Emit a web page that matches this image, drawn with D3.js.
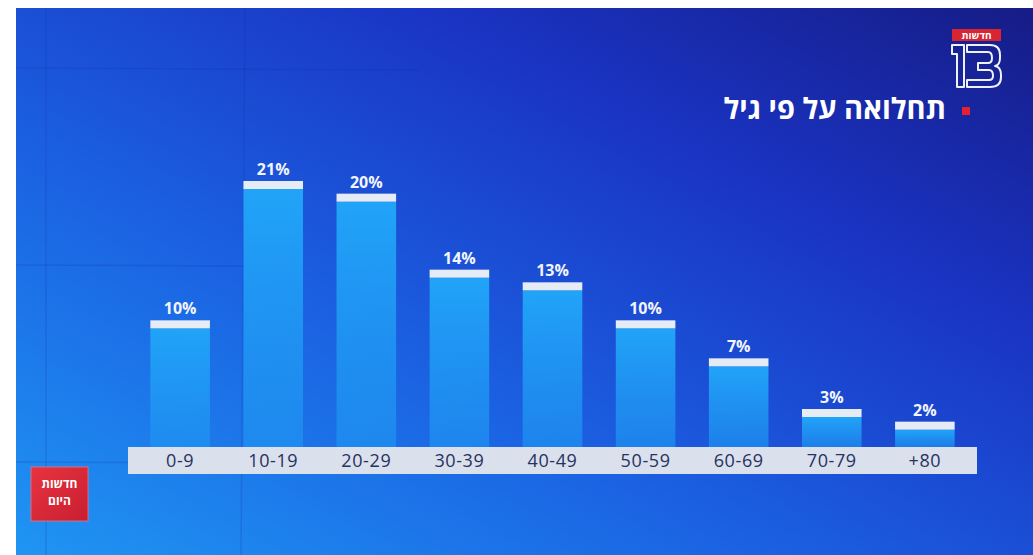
<!DOCTYPE html>
<html lang="he">
<head>
<meta charset="utf-8">
<script src="https://cdn.jsdelivr.net/npm/d3@7/dist/d3.min.js"></script>
<style>
  html, body { margin: 0; padding: 0; background: #ffffff; overflow: hidden; }
  svg { display: block; }
</style>
</head>
<body>
<svg id="chart" width="1033" height="555"></svg>
<script>
// ---- data ----
const categories = ["0-9", "10-19", "20-29", "30-39", "40-49", "50-59", "60-69", "70-79", "+80"];
const values = [10, 21, 20, 14, 13, 10, 7, 3, 2];
const title = "תחלואה על פי גיל";
const logoLabel = "חדשות";
const badgeLines = ["חדשות", "היום"];

// ---- setup ----
const W = 1033, H = 555;
const svg = d3.select("#chart");
const defs = svg.append("defs");

const bg = defs.append("linearGradient").attr("id", "bg")
  .attr("x1", "0%").attr("y1", "100%").attr("x2", "100%").attr("y2", "0%");
bg.append("stop").attr("offset", "0%").attr("stop-color", "#1f95f3");
bg.append("stop").attr("offset", "35%").attr("stop-color", "#1b64e3");
bg.append("stop").attr("offset", "70%").attr("stop-color", "#1a34c4");
bg.append("stop").attr("offset", "100%").attr("stop-color", "#161c86");

const barGrad = defs.append("linearGradient").attr("id", "barGrad")
  .attr("x1", "0").attr("y1", "0").attr("x2", "0").attr("y2", "1");
barGrad.append("stop").attr("offset", "0%").attr("stop-color", "#21a4f8").attr("stop-opacity", 1);
barGrad.append("stop").attr("offset", "100%").attr("stop-color", "#1f92f2").attr("stop-opacity", 0.7);

const badgeGrad = defs.append("linearGradient").attr("id", "badgeGrad")
  .attr("x1", "0").attr("y1", "0").attr("x2", "1").attr("y2", "1");
badgeGrad.append("stop").attr("offset", "0%").attr("stop-color", "#e8333f");
badgeGrad.append("stop").attr("offset", "100%").attr("stop-color", "#c81f32");

// background (photo border white on top/left)
svg.append("rect").attr("x", 16).attr("y", 8).attr("width", W - 16).attr("height", H - 8)
  .attr("fill", "url(#bg)");

// video wall seams
const seams = svg.append("g").attr("stroke", "#0f2a9a").attr("stroke-opacity", 0.18).attr("stroke-width", 1.5);
seams.append("line").attr("x1", 46).attr("x2", 46).attr("y1", 8).attr("y2", H);
seams.append("line").attr("x1", 245).attr("x2", 241).attr("y1", 8).attr("y2", H);
seams.append("line").attr("x1", 16).attr("x2", 420).attr("y1", 68).attr("y2", 70);
seams.append("line").attr("x1", 16).attr("x2", 245).attr("y1", 265).attr("y2", 266);
seams.append("line").attr("x1", 16).attr("x2", 245).attr("y1", 462).attr("y2", 463);

// ---- scales ----
const x = d3.scaleBand().domain(categories).range([128, 977]).paddingInner(0.36).paddingOuter(0.24);
const y = d3.scaleLinear().domain([0, 21]).range([447, 181]);
const capH = 8;

const data = categories.map((c, i) => ({ c, v: values[i] }));

// bars
const g = svg.append("g");
g.selectAll("rect.bar").data(data).join("rect").attr("class", "bar")
  .attr("x", d => x(d.c)).attr("width", x.bandwidth())
  .attr("y", d => y(d.v) + capH).attr("height", d => y(0) - y(d.v) - capH)
  .attr("fill", "url(#barGrad)");
g.selectAll("rect.cap").data(data).join("rect").attr("class", "cap")
  .attr("x", d => x(d.c)).attr("width", x.bandwidth())
  .attr("y", d => y(d.v)).attr("height", capH)
  .attr("fill", "#e6ecf5");
g.selectAll("text.val").data(data).join("text").attr("class", "val")
  .attr("x", d => x(d.c) + x.bandwidth() / 2).attr("y", d => y(d.v) - 6)
  .attr("text-anchor", "middle").attr("fill", "#f2f5fb")
  .attr("font-family", "'Open Sans', 'Noto Sans', sans-serif").attr("font-weight", 700)
  .attr("font-size", 16).text(d => d.v + "%");

// axis band
svg.append("rect").attr("x", 128).attr("y", 447).attr("width", 849).attr("height", 27)
  .attr("fill", "#dae0ec");
const axis = d3.axisBottom(x).tickSize(0).tickPadding(0);
const ax = svg.append("g").attr("transform", "translate(0,447)").call(axis);
ax.select(".domain").remove();
ax.selectAll("text").attr("y", 20).attr("dy", 0)
  .attr("fill", "#27325e").attr("font-size", 18).attr("letter-spacing", 0.6)
  .attr("font-family", "'Open Sans', 'Noto Sans', sans-serif").attr("font-weight", 400);

// title
svg.append("text").attr("x", 946).attr("y", 119).attr("text-anchor", "end")
  .attr("fill", "#ffffff")
  .attr("font-family", "'Open Sans', 'Liberation Sans', 'DejaVu Sans', sans-serif")
  .attr("font-weight", 700).attr("font-size", 29).text(title);
svg.append("rect").attr("x", 962).attr("y", 107).attr("width", 8).attr("height", 8).attr("fill", "#e8202e");

// logo
svg.append("rect").attr("x", 952).attr("y", 29).attr("width", 49).attr("height", 12).attr("fill", "#d8252f");
svg.append("text").attr("x", 976.5).attr("y", 38.5).attr("text-anchor", "middle")
  .attr("fill", "#ffffff").attr("font-family", "'Open Sans', 'Liberation Sans', sans-serif")
  .attr("font-weight", 700).attr("font-size", 10).text(logoLabel);
const logo = svg.append("g").attr("transform", "translate(952,45)")
  .attr("fill", "none").attr("stroke", "#eef1f8").attr("stroke-width", 2).attr("stroke-linejoin", "round");
logo.append("path").attr("d", "M0,0 H12 V42 H5 V9 H0 Z");
logo.append("path").attr("d",
  "M15,0 H38 Q48,0 48,10 V13 Q48,20 43,21 Q49,22 49,30 V32 Q49,42 38,42 H15 V35 H37 Q41,35 41,31 Q41,25 37,25 H26 V18 H36 Q40,18 40,13 Q40,7 36,7 H15 Z");

// badge
svg.append("rect").attr("x", 31).attr("y", 467).attr("width", 57).attr("height", 54)
  .attr("fill", "url(#badgeGrad)").attr("stroke", "#f07080").attr("stroke-width", 0.8);
svg.append("g").selectAll("text").data(badgeLines).join("text")
  .attr("x", 59.5).attr("y", (d, i) => 488 + i * 16.5).attr("text-anchor", "middle")
  .attr("fill", "#ffffff").attr("font-family", "'Open Sans', 'Liberation Sans', sans-serif")
  .attr("font-weight", 700).attr("font-size", 12).text(d => d);
</script>
</body>
</html>
